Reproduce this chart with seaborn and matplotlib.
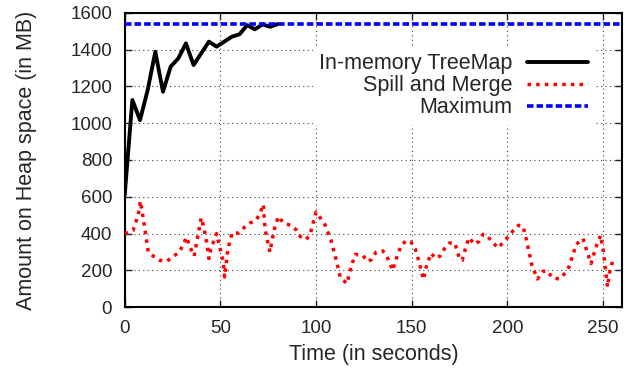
import matplotlib
matplotlib.use("Agg")
import matplotlib.pyplot as plt
import seaborn as sns
import pandas as pd

# In-memory TreeMap heap usage (sampled every 4 s)
tree_time = [0, 4, 8, 12, 16, 20, 24, 28, 32, 36, 40, 44, 48, 52, 56, 60, 64, 68, 72, 76, 80]
tree_heap = [610, 1126, 1017, 1180, 1388, 1171, 1307, 1352, 1434, 1316, 1380, 1443,
             1416, 1443, 1470, 1483, 1533, 1510, 1537, 1524, 1539]

# Spill and Merge heap usage
spill_time = [0, 4.4, 7.1, 8.2, 9.3, 10.6, 12.3, 15, 18.4, 21.9, 25, 28.6, 32.4, 33.7, 36.3,
              37.8, 40, 41.4, 42.8, 44, 44.9, 48, 51.5, 52.2, 54, 56.1, 59.8, 62.5, 65.4,
              68.6, 70.7, 72.4, 73.4, 75.9, 78, 80.3, 83, 86.8, 89.6, 91.6, 94.8, 96.9,
              100, 102.5, 104.7, 107.7, 110.8, 112.6, 116.1, 118.1, 120.4, 124.4, 127,
              129.1, 131.4, 134.9, 137, 140.1, 141.5, 144.3, 147.1, 149.5, 151.8, 154,
              156.1, 157.4, 160, 162.8, 165.2, 167.1, 169.7, 172.5, 174.9, 176.4, 177.4,
              179.9, 182.8, 185.2, 187.2, 189.3, 192, 195.2, 198, 200.6, 203.2, 205.8,
              208.1, 209.3, 212.8, 215.7, 218.6, 221, 223.3, 227.2, 230.2, 232.2, 236,
              239.5, 241, 243.7, 246.1, 248.7, 250.1, 252.3, 253.4, 255.5]
spill_heap = [400, 418, 503, 577, 508, 421, 300, 277, 255, 249, 273, 300, 381, 336, 278,
              363, 486, 432, 351, 264, 313, 400, 246, 164, 318, 403, 403, 434, 457,
              472, 508, 559, 421, 300, 418, 493, 457, 445, 421, 385, 367, 396,
              517, 481, 448, 367, 246, 164, 128, 210, 287, 282, 248,
              260, 300, 306, 276, 200, 251, 331, 363, 355, 318, 241,
              150, 213, 293, 264, 282, 318, 349, 349, 264, 255, 296,
              378, 342, 358, 396, 390, 355, 322, 355, 385, 418, 445,
              440, 396, 228, 153, 195, 197, 161, 153, 186, 219, 342,
              373, 322, 237, 322, 390, 306, 110, 191, 270]

max_heap = 1540
max_time = [0, 260]

sns.set_style("ticks")
plt.rcParams["font.family"] = ["Liberation Sans", "DejaVu Sans"]
tick_fs = 13.5
label_fs = 15.5

fig = plt.figure(figsize=(6.33, 3.76), dpi=100)
ax = fig.add_axes([0.197, 0.183, 0.786, 0.783])

tree_df = pd.DataFrame({"t": tree_time, "heap": tree_heap})
spill_df = pd.DataFrame({"t": spill_time, "heap": spill_heap})
max_df = pd.DataFrame({"t": max_time, "heap": [max_heap] * len(max_time)})

sns.lineplot(data=tree_df, x="t", y="heap", ax=ax, color="black", lw=2.8,
             label="In-memory TreeMap", zorder=3)
sns.lineplot(data=spill_df, x="t", y="heap", ax=ax, color="red", lw=2.5,
             linestyle=(0, (1, 1.5)), label="Spill and Merge", zorder=3)
sns.lineplot(data=max_df, x="t", y="heap", ax=ax, color="blue", lw=2.6,
             linestyle=(0, (1.8, 0.85)), label="Maximum", zorder=3)

ax.set_xlim(0, 260)
ax.set_ylim(0, 1600)
ax.set_xticks([0, 50, 100, 150, 200, 250])
ax.set_yticks(range(0, 1601, 200))
ax.tick_params(direction="in", top=True, right=True, length=5, width=1,
               labelsize=tick_fs, pad=9)
ax.grid(True, color="0.25", linestyle=(0, (1, 3)), lw=0.8)
for s in ax.spines.values():
    s.set_linewidth(1.5)
    s.set_color("black")

ax.set_xlabel("Time (in seconds)", fontsize=label_fs, labelpad=5)
ax.set_ylabel("Amount on Heap space (in MB)", fontsize=label_fs, labelpad=24)

leg = ax.legend(loc="upper right", bbox_to_anchor=(0.944, 0.885), markerfirst=False,
                frameon=True, fancybox=False, framealpha=1, edgecolor="white",
                handlelength=2.85, handletextpad=0.65, labelspacing=0.05,
                borderpad=0.3, borderaxespad=0, fontsize=label_fs)
leg.set_zorder(2)
leg.get_frame().set_linewidth(0)

fig.savefig("out.png", dpi=100)
